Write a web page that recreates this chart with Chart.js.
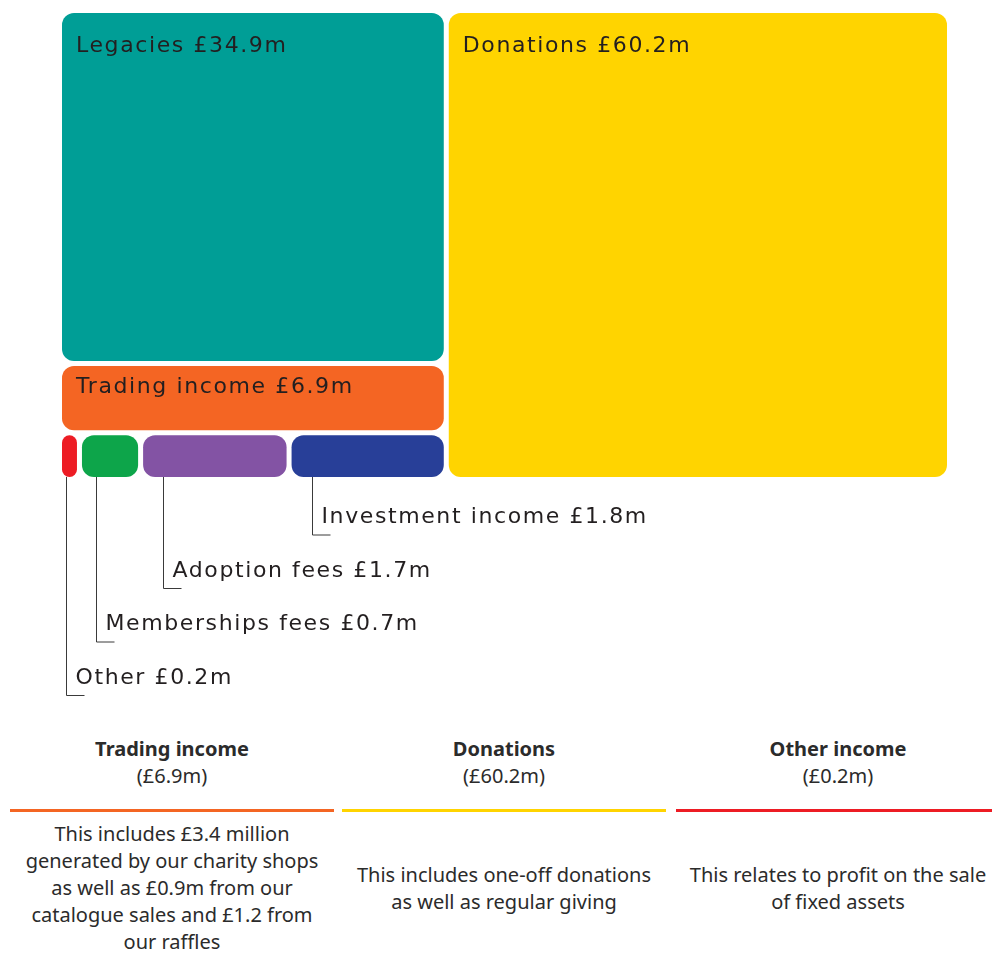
<!DOCTYPE html>
<html>
<head>
<meta charset="utf-8">
<script src="https://cdn.jsdelivr.net/npm/chart.js@4.4.1/dist/chart.umd.min.js"></script>
<style>
  html, body { margin: 0; padding: 0; background: #fff; overflow: hidden; }
  #wrap { position: relative; width: 992px; height: 954px; }
  #income { position: absolute; left: 0; top: 0; }
  .col { position: absolute; top: 0; width: 324px; font-family: "Noto Sans", "Open Sans", sans-serif; color: #2b2b2b; text-align: center; }
  .col h3 { position: absolute; top: 736px; left: 0; right: 0; margin: 0; font-size: 20px; line-height: 26px; font-weight: 700; }
  .col .amt { position: absolute; top: 763px; left: 0; right: 0; font-size: 20px; line-height: 26px; }
  .col .rule { position: absolute; top: 809px; left: 0; right: 0; height: 3px; }
  .col .desc { position: absolute; top: 820px; left: 0; right: 0; height: 135px; display: flex; align-items: center; justify-content: center; font-size: 20px; line-height: 27px; white-space: nowrap; }
</style>
</head>
<body>
<div id="wrap">
  <canvas id="income" width="992" height="720"></canvas>
  <div class="col" style="left:10px">
    <h3>Trading income</h3><div class="amt">(£6.9m)</div>
    <div class="rule" style="background:#f46523"></div>
    <div class="desc">This includes £3.4 million<br>generated by our charity shops<br>as well as £0.9m from our<br>catalogue sales and £1.2 from<br>our raffles</div>
  </div>
  <div class="col" style="left:342px">
    <h3>Donations</h3><div class="amt">(£60.2m)</div>
    <div class="rule" style="background:#ffd400"></div>
    <div class="desc">This includes one-off donations<br>as well as regular giving</div>
  </div>
  <div class="col" style="left:676px">
    <h3>Other income</h3><div class="amt">(£0.2m)</div>
    <div class="rule" style="background:#ed1c24"></div>
    <div class="desc">This relates to profit on the sale<br>of fixed assets</div>
  </div>
</div>
<script>
// income sources, £m
const categories = ['Legacies', 'Donations', 'Trading income', 'Other', 'Memberships fees', 'Adoption fees', 'Investment income']
const values = [34.9, 60.2, 6.9, 0.2, 0.7, 1.7, 1.8]
const colours = ['#009e96', '#ffd400', '#f46523', '#ed1c24', '#0da54a', '#8353a4', '#283f98']
// which ones sit in the thin strip and get a leader label underneath
const smallItems = ['Other', 'Memberships fees', 'Adoption fees', 'Investment income']
const rightColumn = 'Donations'

const area = { x0: 62, x1: 947, y0: 13, y1: 477 }
const GAP = 5
const INK = '#231f20'
const HAND = '22px "DejaVu Sans", sans-serif'

const val = name => values[categories.indexOf(name)]
const label = name => name + ' £' + val(name).toFixed(1) + 'm'

// slice-and-dice layout in scale units
function layout() {
    const total = values.reduce((a, b) => a + b, 0)
    const rects = []
    const splitX = area.x0 + (area.x1 - area.x0) * (total - val(rightColumn)) / total
    rects.push({ name: rightColumn, x0: splitX, x1: area.x1, y0: area.y0, y1: area.y1 })
    const leftTotal = total - val(rightColumn)
    const smallTotal = smallItems.reduce((a, n) => a + val(n), 0)
    let y = area.y0
    categories.filter(n => n !== rightColumn && !smallItems.includes(n)).forEach(n => {
        const h = (area.y1 - area.y0) * val(n) / leftTotal
        rects.push({ name: n, x0: area.x0, x1: splitX, y0: y, y1: y + h })
        y += h
    })
    let x = area.x0
    smallItems.forEach(n => {
        const w = (splitX - area.x0) * val(n) / smallTotal
        rects.push({ name: n, x0: x, x1: x + w, y0: y, y1: area.y1, small: true })
        x += w
    })
    return rects
}

const treemapPlugin = {
    id: 'treemap_boxes',
    afterDraw: (chart) => {
        const ctx = chart.ctx
        const xs = chart.scales.x
        const ys = chart.scales.y
        const rects = layout()
        ctx.save()
        rects.forEach(r => {
            // shared edges get half the gap each
            const left = xs.getPixelForValue(r.x0) + (r.x0 > area.x0 ? GAP / 2 : 0)
            const right = xs.getPixelForValue(r.x1) - (r.x1 < area.x1 ? GAP / 2 : 0)
            const top = ys.getPixelForValue(r.y0) + (r.y0 > area.y0 ? GAP / 2 : 0)
            const bottom = ys.getPixelForValue(r.y1) - (r.y1 < area.y1 ? GAP / 2 : 0)
            const w = right - left, h = bottom - top
            const rad = Math.min(12, w / 2, h / 2)
            ctx.fillStyle = colours[categories.indexOf(r.name)]
            ctx.beginPath()
            ctx.roundRect(left, top, w, h, rad)
            ctx.fill()
            r.px = { left, right, top, bottom, w, h }
        })

        ctx.font = HAND
        ctx.letterSpacing = '1.6px'
        ctx.fillStyle = INK
        ctx.textBaseline = 'alphabetic'
        ctx.textAlign = 'left'
        rects.filter(r => !r.small).forEach(r => {
            ctx.fillText(label(r.name), r.px.left + 14, r.px.top + Math.min(39, r.px.h * 0.42))
        })

        // leader labels for the thin strip, last one highest
        const small = rects.filter(r => r.small)
        ctx.strokeStyle = '#3a3a3a'
        ctx.lineWidth = 1
        small.forEach((r, i) => {
            const row = small.length - 1 - i
            const baseline = ys.getPixelForValue(523 + row * 53.5)
            const lx = Math.round(r.px.left + Math.min(20, r.px.w * 0.25)) + 0.5
            ctx.beginPath()
            ctx.moveTo(lx, r.px.bottom)
            ctx.lineTo(lx, baseline + 12)
            ctx.lineTo(lx + 18, baseline + 12)
            ctx.stroke()
            ctx.fillText(label(r.name), lx + 9, baseline)
        })
        ctx.restore()
    }
}

new Chart(document.getElementById('income'), {
    type: 'scatter',
    data: { datasets: [{ data: [] }] },
    plugins: [treemapPlugin],
    options: {
        responsive: false,
        animation: false,
        layout: { padding: 0 },
        plugins: { legend: { display: false }, tooltip: { enabled: false } },
        scales: {
            x: { type: 'linear', min: 0, max: 992, display: false },
            y: { type: 'linear', min: 0, max: 720, reverse: true, display: false }
        }
    }
})
</script>
</body>
</html>
